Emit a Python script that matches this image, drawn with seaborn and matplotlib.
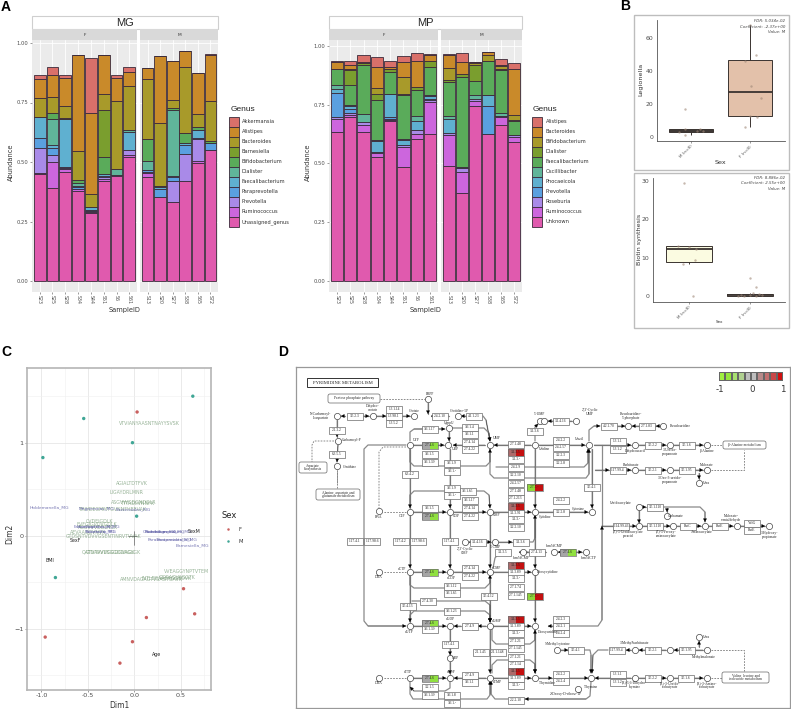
import numpy as np
import pandas as pd
import seaborn as sns
import matplotlib.pyplot as plt
from matplotlib.colors import ListedColormap
from matplotlib.lines import Line2D
from matplotlib.patches import Rectangle, FancyBboxPatch

W, H = 791, 709

# panel A
samples_f = ["S23", "S25", "S28", "S34", "S44", "S51", "S6", "S61"]
samples_m = ["S13", "S20", "S27", "S38", "S65", "S72"]
hue_colors = ["#d9706a", "#c98a2a", "#a89a2a", "#7a9e2e", "#5aab5a", "#60b59a",
              "#5fb0d0", "#5aa0e0", "#a98ae8", "#cc66dd", "#e05aae"]

mg_genus = ["Akkermansia", "Alistipes", "Bacteroides", "Barnesiella", "Bifidobacterium", "Dialister",
            "Faecalibacterium", "Paraprevotella", "Prevotella", "Ruminococcus", "Unassigned_genus"]
mg_akkermansia = [.015, .035, .01, 0, .23, 0, .01, .02, 0, 0, 0, 0, 0, .005]
mg_alistipes = [.08, .09, .12, .405, .34, .165, .10, .06, .045, .28, .165, .065, .175, .195]
mg_bacteroides = [.08, .07, .05, .12, .055, .065, .285, .185, .255, .265, .035, .28, .055, .165]
mg_barnesiella = [0, 0, .005, 0, 0, .20, 0, 0, 0, 0, 0, 0, 0, 0]
mg_bifido = [0, .025, 0, .015, 0, .07, 0, 0, .09, 0, .005, .04, .01, .01]
mg_dialister = [0, .11, 0, .01, 0, 0, .025, .01, .04, .005, .28, 0, 0, 0]
mg_faecali = [.09, .01, .20, .005, .01, .01, 0, .075, 0, .01, .005, .01, .035, 0]
mg_parapre = [.04, .03, .005, .01, .005, .005, 0, 0, .005, .03, .015, .035, .005, .03]
mg_prevotella = [.105, .03, .005, 0, .005, .005, 0, .02, .005, 0, .09, .115, .09, 0]
mg_rumino = [.005, .11, .01, .005, .005, .01, .005, .01, .02, 0, 0, 0, .01, 0]
mg_unassigned = [.45, .39, .46, .38, .285, .42, .44, .52, .435, .355, .33, .42, .495, .55]
mg_values = [mg_akkermansia, mg_alistipes, mg_bacteroides, mg_barnesiella, mg_bifido, mg_dialister,
             mg_faecali, mg_parapre, mg_prevotella, mg_rumino, mg_unassigned]

mp_genus = ["Alistipes", "Bacteroides", "Bifidobacterium", "Dialister", "Faecalibacterium", "Oscillibacter",
            "Phocaeicola", "Prevotella", "Roseburia", "Ruminococcus", "Unknown"]
mp_alistipes = [.005, .015, .03, .04, .025, .025, .035, .005, .005, .04, 0, 0, .025, .025]
mp_bacteroides = [.03, .02, .005, .09, .01, .065, .11, .025, .055, .05, .005, .015, .005, .195]
mp_bifido = [0, .005, 0, .025, 0, .07, 0, 0, .05, 0, .005, .025, .015, .02]
mp_dialister = [0, .06, .005, .025, .01, .005, .015, .025, .01, .015, .07, 0, .005, .005]
mp_faecali = [.065, .085, .21, .17, .095, .185, .11, .12, .145, .38, .06, .145, .18, .06]
mp_oscilli = [.02, .005, .035, .005, 0, .005, .02, .005, .01, .005, .015, 0, .015, 0]
mp_phocae = [.015, .015, 0, .045, .10, .02, .04, .01, .06, 0, 0, .045, 0, 0]
mp_prevotella = [.105, .015, 0, 0, .005, 0, 0, .005, 0, 0, 0, .12, 0, 0]
mp_roseburia = [.005, .01, .01, .005, .005, .01, .015, .01, .01, .015, .01, 0, .005, .01]
mp_rumino = [.055, .01, .03, .02, .005, .085, .02, .135, .13, .09, .02, 0, .03, .02]
mp_unknown = [.635, .695, .635, .525, .68, .485, .605, .625, .49, .375, .745, .625, .665, .59]
mp_values = [mp_alistipes, mp_bacteroides, mp_bifido, mp_dialister, mp_faecali, mp_oscilli,
             mp_phocae, mp_prevotella, mp_roseburia, mp_rumino, mp_unknown]

# panel B
legionella_m = [1, 3.2, 3.4, 3.6, 4.8, 5, 17]
legionella_f = [6, 12, 13, 24, 31, 46, 50, 68]
legionella_m_jit = [-.1, -.2, .1, .2, -.1, .15, -.1]
legionella_f_jit = [-.09, .12, 0, .18, .01, -.09, .1, 0]
biotin_m = [0, 8.2, 9.4, 12.2, 12.8, 13.1, 29.5]
biotin_f = [0, 0, 0, .1, .1, .2, .5, .6, 2.3, 4.7]
biotin_m_jit = [.06, -.1, .1, .12, .0, -.18, -.09]
biotin_f_jit = [-.2, -.1, .1, .2, .0, -.15, .15, .05, .1, 0]

# panel C
f_x = [.03, .53, .65, .13, -.02, -.155, -.96]
f_y = [1.33, -.57, -.84, -.88, -1.14, -1.37, -1.09]
m_x = [.63, -.545, -.02, -.985, .025, -.85]
m_y = [1.5, 1.26, 1.0, .84, .21, -.45]
peptides = ["VTVIANYAASNTNAYYSVSK", "AGIALTDTFVK", "LIGAYDRLMNR", "ASGVWGDGNDGLR", "TTTADIIVNNFK",
            "TINYDEGMMTGVNNFHEEVAK", "CVDEIGDLK", "EVFGIGVDVGDLK", "AGGVVVDDGVLK", "AEVAAGGVNVK",
            "GTDSNTVDVVGSENTINRVTVVAK", "QATDAVVDGGDGVAGK", "GTVTAVVSGGDDAGLGK", "VVEAGGYNPTVTEM",
            "AMNVDAGAGTVSAGTGAVK", "INTLDEAAEAGGSDVK", "GGDAGVAGGTK"]
pep_x = [.158, -.03, -.083, -.01, .043, -.226, -.38, -.406, -.39, -.5, -.334, -.28, -.226, .564, .187, .348, .456]
pep_y = [1.21, .566, .462, .358, .344, .283, .15, .125, .09, .03, -.01, -.18, -.18, -.387, -.47, -.465, -.45]
taxa = ["Holdemanella_MG", "Megamonas_MG", "Bacteroides_MG", "Faecalibacterium_MG", "Haemophilus_MG",
        "Sutterella_MG", "Roseburia_MG", "Clostridium_MG", "Ruminococcus_MG", "Subdoligranulum_MG",
        "Parabacteroides_MG", "Paraprevotella_MG", "Barnesiella_MG"]
tax_x = [-.92, -.406, -.01, -.406, -.42, -.37, -.36, .277, .33, .37, .384, .456, .629]
tax_y = [.308, .283, .283, .097, .097, .043, .043, .05, .043, .043, -.04, -.047, -.108]
meta = ["SexM", "SexF", "BMI", "Age"]
meta_x = [.64, -.63, -.905, .24]
meta_y = [.05, -.057, -.262, -1.272]

# panel D, in picture pixels
enzymes = [
    (355, 416, "3.5.2.3", "n"), (394, 409, "1.3.1.14", "n"), (394, 416, "1.3.98.1", "n"), (394, 423, "1.3.5.2", "n"),
    (440, 416, "2.4.2.10", "n"), (474, 416, "4.1.1.23", "n"), (337, 430, "2.1.3.2", "n"), (337, 454, "6.3.5.5", "n"),
    (430, 429, "3.6.1.17", "n"), (470, 427, "3.6.1.4", "n"), (470, 434, "3.6.1.1", "n"), (470, 442, "2.7.4.14", "n"),
    (470, 449, "2.7.4.22", "n"), (430, 445, "2.7.4.6", "g"), (430, 454, "3.6.1.5", "n"), (430, 462, "3.6.1.39", "n"),
    (452, 463, "3.6.1.9", "n"), (452, 471, "3.6.1.-", "n"), (410, 474, "6.3.4.2", "n"), (452, 488, "3.6.1.9", "n"),
    (452, 495, "3.6.1.-", "n"), (468, 491, "3.6.1.65", "n"), (470, 500, "3.6.1.17", "n"), (470, 508, "2.7.4.14", "n"),
    (470, 516, "2.7.4.22", "n"), (430, 508, "3.6.1.5", "n"), (430, 516, "2.7.4.6", "g"), (535, 431, "3.1.3.6", "n"),
    (516, 444, "2.7.1.48", "n"), (516, 452, "3.1.3.5", "r"), (516, 459, "3.1.3.-", "n"), (516, 467, "2.4.2.9", "n"),
    (516, 475, "3.2.2.10", "n"), (516, 483, "2.4.2.57", "n"), (516, 491, "2.7.1.48", "n"), (516, 498, "2.7.1.213", "n"),
    (516, 506, "3.1.3.5", "r"), (516, 513, "3.1.3.91", "n"), (516, 519, "3.1.3.-", "n"), (516, 527, "3.2.2.10", "n"),
    (535, 487, "2.7.7.-", "x"), (561, 421, "3.1.4.16", "n"), (561, 440, "2.4.2.2", "n"), (561, 447, "2.4.2.57", "n"),
    (561, 455, "3.2.2.3", "n"), (561, 463, "3.2.2.8", "n"), (609, 426, "4.2.1.70", "n"), (647, 426, "2.7.1.83", "n"),
    (618, 441, "1.3.1.1", "n"), (618, 449, "1.3.1.2", "n"), (653, 445, "3.5.2.2", "n"), (687, 445, "3.5.1.6", "n"),
    (618, 470, "1.17.99.4", "n"), (653, 470, "3.5.2.1", "n"), (687, 470, "3.5.1.95", "n"), (561, 500, "2.4.2.2", "n"),
    (561, 512, "3.2.2.8", "n"), (592, 487, "3.5.4.1", "n"), (621, 526, "1.14.99.46", "n"), (655, 526, "3.5.1.110", "n"),
    (655, 507, "3.5.1.110", "n"), (688, 526, "RutC", "n"), (720, 526, "RutE", "n"), (752, 523, "YdfG", "n"),
    (752, 530, "RutE", "n"), (355, 541, "1.17.4.1", "n"), (372, 541, "1.17.98.6", "n"), (401, 541, "1.17.4.2", "n"),
    (418, 541, "1.17.98.6", "n"), (450, 541, "1.17.4.1", "n"), (478, 542, "3.1.4.16", "n"), (521, 542, "3.1.3.6", "n"),
    (503, 552, "3.1.3.5", "n"), (537, 552, "2.7.4.13", "n"), (516, 565, "3.1.3.5", "r"), (516, 572, "3.1.3.89", "n"),
    (516, 578, "3.1.3.-", "n"), (516, 587, "2.7.1.74", "n"), (516, 595, "2.7.1.145", "n"), (535, 596, "2.7.7.-", "x"),
    (470, 568, "2.7.4.14", "n"), (470, 576, "2.7.4.22", "n"), (430, 572, "2.7.4.6", "g"), (452, 586, "3.6.1.12", "n"),
    (452, 593, "3.6.1.65", "n"), (428, 601, "2.7.4.30", "n"), (408, 606, "3.5.4.13", "n"), (489, 596, "3.5.4.12", "n"),
    (452, 611, "3.6.1.23", "n"), (430, 623, "2.7.4.6", "g"), (430, 629, "3.6.1.39", "n"), (470, 626, "2.7.4.9", "n"),
    (516, 619, "3.1.3.5", "r"), (516, 626, "3.1.3.89", "n"), (516, 633, "3.1.3.-", "n"), (516, 641, "2.7.1.21", "n"),
    (516, 648, "2.7.1.145", "n"), (450, 644, "1.17.4.1", "n"), (481, 652, "2.1.1.45", "n"), (498, 652, "2.1.1.148", "n"),
    (516, 657, "2.7.1.21", "n"), (516, 664, "2.7.1.14", "n"), (516, 671, "3.1.3.5", "r"), (516, 678, "3.1.3.89", "n"),
    (516, 685, "3.1.3.-", "n"), (430, 678, "2.7.4.6", "g"), (430, 687, "3.2.1.5", "n"), (430, 695, "3.6.1.39", "n"),
    (470, 675, "2.7.4.9", "n"), (470, 682, "3.6.1.1", "n"), (452, 695, "3.6.1.8", "n"), (452, 703, "3.6.1.-", "n"),
    (516, 700, "2.2.2.10", "n"), (561, 619, "2.4.2.3", "n"), (561, 626, "2.4.2.1", "n"), (561, 633, "2.4.2.4", "n"),
    (576, 650, "3.5.4.1", "n"), (617, 650, "1.17.99.4", "n"), (653, 650, "3.5.2.1", "n"), (687, 650, "3.5.1.95", "n"),
    (561, 674, "2.4.2.2", "n"), (561, 681, "2.4.2.4", "n"), (618, 674, "1.3.1.1", "n"), (618, 682, "1.3.1.2", "n"),
    (653, 678, "3.5.2.2", "n"), (686, 678, "3.5.1.6", "n"), (568, 552, "2.7.4.6", "g"),
]
node_x = [428, 337, 373, 414, 458, 338, 337, 410, 448, 449, 490, 535, 540, 410, 450, 490, 535, 379, 544, 576, 589,
          628, 663, 635, 670, 707, 635, 670, 707, 699, 592, 639, 667, 639, 673, 705, 737, 769, 465, 495, 523, 410,
          450, 490, 535, 379, 410, 450, 490, 535, 450, 379, 410, 450, 490, 535, 554, 586, 557, 591, 578, 635, 670,
          707, 699, 635, 670, 707]
node_y = [399, 416, 416, 416, 416, 441, 466, 445, 445, 428, 445, 445, 421, 512, 512, 512, 512, 511, 421, 421, 445,
          426, 426, 445, 445, 445, 470, 470, 470, 483, 512, 507, 516, 526, 526, 526, 526, 526, 542, 542, 552, 572,
          572, 572, 572, 572, 626, 626, 626, 626, 658, 678, 678, 678, 678, 678, 552, 552, 650, 678, 689, 650, 650,
          650, 637, 678, 678, 678]
node_text = [
    (430, 394, "PRPP"), (321, 416, "N-Carbamoyl-\nL-aspartate"), (373, 408, "Dihydro-\norotate"), (414, 411, "Orotate"),
    (459, 411, "Orotidine-5P"), (449, 423, "UpppU"), (352, 440, "Carbamoyl-P"), (350, 467, "Ornithine"), (416, 440, "UTP"),
    (456, 449, "UDP"), (497, 438, "UMP"), (402, 516, "CTP"), (456, 516, "CDP"), (497, 515, "CMP"), (379, 517, "RNA"),
    (579, 439, "Uracil"), (545, 449, "Uridine"), (545, 517, "Cytidine"), (635, 451, "Dihydrouracil"),
    (670, 452, "3-Ureido-\npropanoate"), (707, 451, "β-Alanine"), (631, 416, "Pseudouridine-\n5'-phosphate"),
    (680, 426, "Pseudouridine"), (540, 414, "5'-UMP"), (590, 412, "2',3'-Cyclic\nUMP"), (578, 509, "Cytosine"),
    (621, 503, "Ureidoacrylate"), (676, 516, "Carbamate"), (731, 518, "Malonate-\nsemialdehyde"), (702, 532, "Aminoacrylate"),
    (628, 534, "(Z)-3-Ureidoacrylate\nperacid"), (666, 534, "(Z)-3-Peroxy-\naminoacrylate"), (770, 535, "3-Hydroxy-\npropionate"),
    (707, 465, "Malonate"), (706, 483, "Urea"), (670, 480, "3-Oxo-3-ureido-\npropanoate"), (631, 465, "Barbiturate"),
    (591, 687, "Thymine"), (706, 637, "Urea"), (704, 657, "Methylmalonate"), (635, 643, "3-Methylbarbiturate"),
    (670, 685, "(R)-3-Ureido-\nisobutyrate"), (707, 685, "(R)-3-Amino-\nisobutyrate"), (635, 685, "(R)-5,6-Dihydro-\nthymine"),
    (402, 569, "dCTP"), (451, 578, "dCDP"), (497, 568, "dCMP"), (409, 632, "dUTP"), (450, 619, "dUDP"), (497, 621, "dUMP"),
    (408, 672, "dTTP"), (451, 672, "dTDP"), (497, 682, "dTMP"), (379, 577, "DNA"), (379, 683, "DNA"), (456, 658, "UDP"),
    (548, 572, "Deoxycytidine"), (548, 632, "Deoxyuridine"), (547, 683, "Thymidine"), (521, 558, "hm5dCMP"),
    (554, 546, "hm5dCMP"), (588, 558, "hm5dCTP"), (465, 551, "2',3'-Cyclic\nCMP"), (495, 547, "5'-CMP"),
    (566, 694, "2-Deoxy-D-ribose-1P"), (558, 644, "5-Methylcytosine"),
]
solid_lines = [
    [(345, 416), (341, 416)], [(363, 416), (369, 416)], [(376, 416), (386, 416)], [(402, 416), (410, 416)],
    [(449, 416), (431, 416)], [(466, 416), (461, 416)], [(483, 416), (486, 420), (490, 441)], [(428, 403), (428, 414)],
    [(337, 420), (337, 437)], [(338, 445), (337, 462)], [(413, 445), (444, 445)], [(485, 445), (453, 445)],
    [(449, 432), (449, 441)], [(410, 441), (410, 432), (414, 429), (445, 429)], [(452, 428), (484, 428), (489, 433), (490, 441)],
    [(410, 449), (410, 462), (414, 466), (486, 466), (490, 462), (490, 449)], [(531, 445), (494, 445)],
    [(490, 449), (490, 474), (494, 478), (586, 478), (589, 474), (589, 449)], [(496, 467), (584, 467), (588, 463), (588, 449)],
    [(539, 445), (585, 445)], [(535, 441), (535, 427), (538, 424)], [(572, 421), (548, 421)], [(589, 441), (589, 430), (594, 426), (600, 426)],
    [(617, 426), (625, 426)], [(655, 426), (632, 426)], [(663, 426), (656, 426)], [(594, 445), (631, 445)], [(639, 445), (666, 445)],
    [(674, 445), (703, 445)], [(595, 470), (609, 470)], [(626, 470), (631, 470)], [(639, 470), (666, 470)], [(674, 470), (703, 470)],
    [(699, 473), (699, 479)], [(539, 512), (588, 512)], [(592, 449), (592, 508)], [(602, 445), (602, 526), (636, 526)],
    [(569, 626), (598, 626), (602, 620), (602, 526)], [(642, 526), (670, 526)], [(677, 526), (701, 526)], [(708, 526), (733, 526)],
    [(740, 526), (765, 526)], [(639, 510), (639, 523)], [(642, 507), (646, 507)], [(663, 507), (700, 507), (705, 512), (705, 522)],
    [(667, 508), (667, 512)], [(560, 650), (568, 650)], [(584, 650), (590, 650), (591, 655), (591, 673)],
    [(608, 650), (598, 650), (593, 655), (592, 673)], [(631, 650), (626, 650)], [(666, 650), (639, 650)], [(703, 650), (674, 650)],
    [(699, 647), (699, 641)], [(539, 678), (552, 678)], [(569, 678), (588, 678)], [(631, 678), (595, 678)], [(639, 678), (666, 678)],
    [(674, 678), (703, 678)], [(591, 682), (590, 696), (586, 699), (525, 699)], [(508, 699), (495, 699), (491, 694), (491, 681)],
    [(413, 512), (446, 512)], [(454, 512), (486, 512)], [(493, 512), (531, 512)], [(410, 449), (410, 508)], [(410, 515), (410, 568)],
    [(450, 515), (450, 568)], [(490, 515), (490, 568)], [(535, 449), (535, 508)], [(535, 515), (535, 568)],
    [(450, 449), (450, 508)], [(410, 508), (410, 495), (414, 491), (484, 491), (489, 495), (490, 508)],
    [(413, 572), (446, 572)], [(454, 572), (486, 572)], [(493, 572), (531, 572)],
    [(410, 575), (410, 585), (414, 588), (485, 588), (490, 583), (490, 575)], [(410, 576), (410, 622)],
    [(412, 601), (485, 601), (490, 605), (490, 622)], [(490, 575), (490, 622)], [(535, 575), (535, 622)],
    [(493, 568), (495, 558), (500, 552), (510, 552)], [(528, 552), (519, 552)], [(527, 552), (546, 552)], [(562, 552), (558, 552)],
    [(576, 552), (582, 552)], [(470, 542), (469, 542)], [(487, 542), (491, 542)], [(499, 542), (512, 542)], [(530, 542), (533, 542), (535, 538), (535, 515)],
    [(406, 445), (368, 445), (364, 449), (364, 621), (368, 626), (406, 626)],
    [(413, 626), (446, 626)], [(461, 626), (454, 626)], [(486, 626), (478, 626)], [(493, 626), (531, 626)],
    [(410, 622), (410, 615), (414, 611), (485, 611), (490, 615), (490, 622)], [(492, 629), (492, 640), (496, 644), (530, 644), (535, 640), (535, 630)],
    [(490, 630), (490, 673)], [(450, 629), (450, 655)], [(450, 662), (450, 674)], [(535, 630), (535, 673)],
    [(413, 678), (446, 678)], [(486, 678), (454, 678)], [(493, 678), (531, 678)],
    [(410, 681), (410, 694), (413, 699), (487, 699), (490, 695), (490, 681)], [(450, 681), (450, 688), (445, 691), (414, 691), (410, 687)],
    [(492, 673), (492, 665), (497, 660), (530, 660), (535, 664), (535, 673)], [(569, 626), (548, 626)],
]
dashed_lines = [
    [(380, 399), (425, 399)], [(337, 470), (337, 483)], [(334, 441), (314, 441), (312, 445), (312, 462)], [(337, 488), (337, 470)],
    [(406, 447), (383, 447), (379, 452), (379, 508)], [(406, 512), (383, 512)], [(406, 572), (383, 572)], [(406, 678), (383, 678)],
    [(711, 445), (722, 445)], [(711, 470), (744, 470), (744, 450)], [(711, 650), (744, 650), (744, 671)], [(711, 678), (722, 678)],
]
pathway_boxes = [
    (328, 394, 380, 403, "Pentose phosphate pathway"), (299, 462, 327, 473, "Aspartate\nbiosynthesis"),
    (316, 489, 360, 500, "Alanine, aspartate and\nglutamate metabolism"), (723, 441, 766, 449, "β-Alanine metabolism"),
    (722, 672, 769, 683, "Valine, leucine and\nisoleucine metabolism"),
]
scale_colors = ["#a0f040", "#96e63c", "#a8e070", "#b0d090", "#bdbdbd", "#bdbdbd", "#b88a8a", "#c27070", "#c84848", "#d01010"]


def rect(l, t, r, b):
    return [l / W, 1 - b / H, (r - l) / W, (b - t) / H]


def fbox(fig, l, t, r, b, fc, ec="none", lw=0.8):
    fig.add_artist(Rectangle((l / W, 1 - b / H), (r - l) / W, (b - t) / H, transform=fig.transFigure,
                             fc=fc, ec=ec, lw=lw))


def ftext(fig, x, y, s, **kw):
    kw.setdefault("va", "center")
    fig.text(x / W, 1 - y / H, s, **kw)


sns.set_theme(style="white")
plt.rcParams["font.family"] = ["DejaVu Sans"]
fig = plt.figure(figsize=(W / 100, H / 100), dpi=100)


def stacked(fig, genus, values, l, r, split, y0, y1, title, leg_x, legtext_x, legtitle_x):
    palette = dict(zip(genus, hue_colors))
    frame = pd.DataFrame([
        {"SampleID": s, "Genus": g, "Abundance": vals[i]}
        for g, vals in zip(genus, values)
        for i, s in enumerate(samples_f + samples_m)
    ])
    unit = y0 - y1
    fbox(fig, l, 15.5, r, 29, "white", "#cfcfcf")
    ftext(fig, (l + r) / 2, 22.5, title, ha="center", fontsize=8, family="Liberation Sans")
    for names, a, b, lab in [(samples_f, l, split, "F"), (samples_m, split + 3, r, "M")]:
        fbox(fig, a, 29, b, 40, "#d9d9d9")
        ftext(fig, (a + b) / 2, 34.5, lab, ha="center", fontsize=3.2, color="#333333")
        ax = fig.add_axes(rect(a, 40, b, 292), facecolor="#ebebeb")
        sub = frame[frame["SampleID"].isin(names)]
        sns.histplot(data=sub, x="SampleID", hue="Genus", weights="Abundance", multiple="stack",
                     hue_order=genus, palette=palette, shrink=.93, alpha=1, edgecolor="#3a2a3a",
                     linewidth=.6, legend=False, ax=ax, discrete=True, zorder=3)
        ax.set_xlim(-.6, len(names) - .4)
        ax.set_ylim(-11 / unit, (y0 - 40) / unit)
        ax.grid(True, color="white", lw=.6)
        ax.set_axisbelow(True)
        sns.despine(ax=ax, left=True, bottom=True)
        ax.set_xticks(range(len(names)))
        ax.set_xticklabels(names, rotation=270, fontsize=3.4, color="#4d4d4d")
        ax.tick_params(axis="both", length=1.5, width=.4, pad=1, colors="#4d4d4d", bottom=True, left=a == l)
        ax.set_xlabel("")
        ax.set_ylabel("")
        ax.set_yticks([0, .25, .5, .75, 1])
        if a == l:
            ax.set_yticklabels(["0.00", "0.25", "0.50", "0.75", "1.00"], fontsize=3.8)
        else:
            ax.tick_params(axis="y", labelleft=False, left=False)
    ftext(fig, (l + r) / 2, 310, "SampleID", ha="center", fontsize=4.8, color="#333333")
    ftext(fig, l - 21, 162, "Abundance", rotation=90, ha="center", fontsize=4.8, color="#333333")
    ftext(fig, legtitle_x, 109.5, "Genus", fontsize=6, family="Liberation Sans")
    for i, (g, c) in enumerate(zip(genus, hue_colors)):
        fbox(fig, leg_x, 116.7 + i * 10, leg_x + 10, 126.7 + i * 10, c, "#3a2a3a", .6)
        ftext(fig, legtext_x, 121.7 + i * 10, g, fontsize=3.7, color="#333333")


stacked(fig, mg_genus, mg_values, 32, 218, 137, 281, 43, "MG", 228.7, 241.7, 231)
stacked(fig, mp_genus, mp_values, 329, 522, 438, 281, 45.7, "MP", 532.3, 545.7, 532.7)

# panel B
box_colors = [("#6e6a66", "#EDBFA0"), ("#FFFFDD", "#f3e3d3")]
box_info = [
    (legionella_m, legionella_f, legionella_m_jit, legionella_f_jit, (657, 20, 785, 141), (691, 750), 137, 1.645,
     [0, 20, 40, 60], "Legionella", 4.6, 163, 15, 170, ["FDR: 5.034e-02", "Coefficient: -2.37e+00", "Value: M"], 21, 641),
    (biotin_m, biotin_f, biotin_m_jit, biotin_f_jit, (653, 178, 785, 302), (689, 750), 295.7, 3.82,
     [0, 10, 20, 30], "Biotin synthesis", 3, 322, 173, 328, ["FDR: 8.886e-02", "Coefficient: 2.55e+00", "Value: M"], 178, 639),
]
for k, (vm, vf, jm, jf, pos, cen, y0, yu, yticks, ylab, xfs, xy, ft, fb, notes, note_y, lab_x) in enumerate(box_info):
    fbox(fig, 634, ft, 789, fb, "none", "#bdbdbd", 1)
    l, t, r, b = pos
    ax = fig.add_axes(rect(l, t, r, b), facecolor="white")
    groups = ["M (n=8)"] * len(vm) + ["F (n=8)"] * len(vf)
    df = pd.DataFrame({"Sex": groups, "val": vm + vf})
    sns.boxplot(data=df, x="Sex", y="val", hue="Sex", palette=dict(zip(["M (n=8)", "F (n=8)"], box_colors[k])),
                width=.75, showfliers=False, linewidth=.7, linecolor="#3a3330", showcaps=False,
                medianprops={"linewidth": 1.3}, legend=False, ax=ax)
    sns.scatterplot(x=np.r_[np.array(jm), 1 + np.array(jf)], y=vm + vf, color="#a08878", alpha=.6, s=3,
                    linewidth=0, ax=ax, zorder=5)
    spacing = cen[1] - cen[0]
    ax.set_xlim((l - cen[0]) / spacing, (r - cen[0]) / spacing)
    ax.set_ylim((y0 - b) / yu, (y0 - t) / yu)
    ax.set_xticks([0, 1])
    ax.set_xticklabels(["M (n=8)", "F (n=8)"], rotation=45, ha="right", rotation_mode="anchor", fontsize=3, color="#4d4d4d")
    ax.set_yticks(yticks)
    ax.tick_params(axis="y", labelsize=4.4, colors="#4d4d4d", length=1.5, width=.4, pad=1)
    ax.tick_params(axis="x", length=1.5, width=.4, pad=1, colors="#4d4d4d", bottom=True)
    ax.set_xlabel("")
    ax.set_ylabel("")
    sns.despine(ax=ax)
    for s in ("left", "bottom"):
        ax.spines[s].set_linewidth(.6)
        ax.spines[s].set_color("#555555")
    ftext(fig, lab_x, (t + b) / 2 - 1, ylab, rotation=90, ha="center", fontsize=4.6, color="#333333")
    ftext(fig, 720, xy, "Sex", ha="center", fontsize=xfs, color="#333333")
    for i, n in enumerate(notes):
        ftext(fig, 785, note_y + i * 5.5, n, ha="right", fontsize=2.9, style="italic", color="#444444")

# panel C
ax = fig.add_axes(rect(27, 368, 211, 690), facecolor="white")
df = pd.DataFrame({"x": f_x + m_x, "y": f_y + m_y, "Sex": ["F"] * len(f_x) + ["M"] * len(m_x)})
sns.scatterplot(data=df, x="x", y="y", hue="Sex", palette={"F": "#c9605f", "M": "#3fa695"}, s=6,
                linewidth=0, legend=False, ax=ax, zorder=4)
ax.set_xlim(-1.156, .826)
ax.set_ylim(-1.659, 1.803)
ax.set_xticks([-1, -.5, 0, .5])
ax.set_xticklabels(["-1.0", "-0.5", "0.0", "0.5"])
ax.set_yticks([-1, 0, 1])
ax.set_xticks([-.75, -.25, .25, .75], minor=True)
ax.set_yticks([-1.5, -.5, .5, 1.5], minor=True)
ax.grid(True, which="major", color="#e6e6e6", lw=.6)
ax.grid(True, which="minor", color="#f0f0f0", lw=.4)
ax.set_axisbelow(True)
ax.tick_params(axis="both", which="major", labelsize=4.6, colors="#4d4d4d", length=1.5, width=.4, pad=1, bottom=True, left=True)
ax.tick_params(axis="both", which="minor", length=0)
ax.set_xlabel("Dim1", fontsize=5.5, color="#333333", labelpad=1.5)
ax.set_ylabel("")
ftext(fig, 10, 534, "Dim2", rotation=90, ha="center", fontsize=5.5, color="#333333")
for s in ax.spines.values():
    s.set_edgecolor("#b5b5b5")
    s.set_linewidth(1.2)
ax.axhline(0, xmin=.55, xmax=.6, color="#444444", lw=.4)
ax.axvline(0, ymin=.45, ymax=.495, color="#444444", lw=.4)
for s, x, y in zip(peptides, pep_x, pep_y):
    ax.text(x, y, s, fontsize=3.4, color="#5f8a5f", alpha=.65, ha="center", va="center", clip_on=True)
for s, x, y in zip(taxa, tax_x, tax_y):
    ax.text(x, y, s, fontsize=3.2, color="#4a4a9a", alpha=.75, ha="center", va="center", clip_on=True)
for s, x, y in zip(meta, meta_x, meta_y):
    ax.text(x, y, s, fontsize=3.4, color="#222222", ha="center", va="center")
ftext(fig, 222, 515.7, "Sex", fontsize=6, color="#222222")
for lab, y, c in [("F", 529.3, "#c9605f"), ("M", 541.3, "#3fa695")]:
    fig.add_artist(Line2D([228.3 / W], [1 - y / H], marker="o", ms=1.8, color=c, mew=0, transform=fig.transFigure))
    ftext(fig, 238.7, y, lab, fontsize=3.8, color="#333333")

# panel D
ax = fig.add_axes(rect(296, 367, 790, 708), facecolor="white")
ax.set_xlim(296, 790)
ax.set_ylim(708, 367)
ax.set_xticks([])
ax.set_yticks([])
for s in ax.spines.values():
    s.set_edgecolor("#999999")
    s.set_linewidth(.9)
for pts in solid_lines:
    xs, ys = zip(*pts)
    ax.plot(xs, ys, color="#8a8a8a", lw=.9, zorder=1, solid_joinstyle="round")
    ax.annotate("", xy=pts[-1], xytext=pts[-2], zorder=2,
                arrowprops=dict(arrowstyle="-|>,head_length=.55,head_width=.3", mutation_scale=4, color="black",
                                lw=.2, shrinkA=0, shrinkB=0))
for pts in dashed_lines:
    xs, ys = zip(*pts)
    ax.plot(xs, ys, color="#777777", lw=.6, ls=(0, (2, 1.5)), zorder=1)
sns.scatterplot(x=node_x, y=node_y, s=20, color="white", edgecolor="#444444", linewidth=.5, ax=ax, zorder=3)
for x, y, lab, kind in enzymes:
    l, t = x - 8, y - 3.5
    if kind == "n":
        ax.add_patch(Rectangle((l, t), 16, 7, fc="white", ec="#6a6a6a", lw=.5, zorder=4))
    else:
        left = {"g": "#a6a6a6", "r": "#ad6a6a", "x": "#8fd63a"}[kind]
        right = {"g": "#90e040", "r": "#c41010", "x": "#c41010"}[kind]
        ax.add_patch(Rectangle((l, t), 8, 7, fc=left, ec="none", zorder=4))
        ax.add_patch(Rectangle((x, t), 8, 7, fc=right, ec="none", zorder=4))
        ax.add_patch(Rectangle((l, t), 16, 7, fc="none", ec="#6a6a6a", lw=.5, zorder=4))
    ax.text(x, y, lab, fontsize=2.6, family="Liberation Serif", ha="center", va="center", color="#222222", zorder=5)
for x, y, s in node_text:
    ax.text(x, y, s, fontsize=2.6, family="Liberation Serif", ha="center", va="center", color="#222222",
            linespacing=.9, zorder=5)
for l, t, r, b, s in pathway_boxes:
    ax.add_patch(FancyBboxPatch((l + 2, t + 2), r - l - 4, b - t - 4, boxstyle="round,pad=2", fc="white", ec="#666666", lw=.5, zorder=4))
    ax.text((l + r) / 2, (t + b) / 2, s, fontsize=2.6, family="Liberation Serif", ha="center", va="center", linespacing=.9, zorder=5)
ax.add_patch(Rectangle((307, 378), 71, 9, fc="white", ec="#333333", lw=.7, zorder=4))
ax.text(342.5, 382.7, "PYRIMIDINE METABOLISM", fontsize=3.4, family="Liberation Serif", ha="center", va="center", zorder=5)

cax = fig.add_axes(rect(719, 372, 783, 381))
levels = np.arange(len(scale_colors))[None, :]
sns.heatmap(levels, cmap=ListedColormap(scale_colors), cbar=False, linewidths=.25, linecolor="#666666",
            xticklabels=False, yticklabels=False, ax=cax)
for lab, x in [("-1", 720), ("0", 752), ("1", 783)]:
    ftext(fig, x, 389.5, lab, ha="center", fontsize=6.2, color="#333333")

# panel letters
for lab, x, y in [("A", 1, 7), ("B", 620, 6), ("C", 1, 352), ("D", 278, 352)]:
    ftext(fig, x, y, lab, fontsize=10, fontweight="bold", family="Liberation Sans", color="black")

fig.savefig("out.png", dpi=100)
